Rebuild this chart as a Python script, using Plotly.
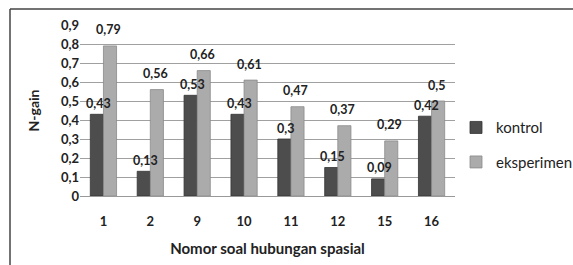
import plotly.graph_objects as go

categories = ["1", "2", "9", "10", "11", "12", "15", "16"]
kontrol = [0.43, 0.13, 0.53, 0.43, 0.30, 0.15, 0.09, 0.42]
eksperimen = [0.79, 0.56, 0.66, 0.61, 0.47, 0.37, 0.29, 0.50]
ytick_vals = [0, 0.1, 0.2, 0.3, 0.4, 0.5, 0.6, 0.7, 0.8, 0.9]
ytick_text = ["0", "0,1", "0,2", "0,3", "0,4", "0,5", "0,6", "0,7", "0,8", "0,9"]

def fmt(v):
    s = ("%.2f" % v).rstrip("0").rstrip(".")
    return s.replace(".", ",")

FONT = "Lato"
W, H = 573, 265
L, R, T, B = 80, 118, 25, 69

fig = go.Figure()
fig.add_trace(go.Bar(x=categories, y=kontrol, name="kontrol", legendgroup="a",
                     marker=dict(color="#4d4d4d", line=dict(color="#333333", width=0.8))))
fig.add_trace(go.Bar(x=categories, y=eksperimen, name="eksperimen", legendgroup="b",
                     marker=dict(color="#ababab", line=dict(color="#8a8a8a", width=0.8))))

ann = []
for i, (c, v) in enumerate(zip(categories, kontrol)):
    ann.append(dict(x=i, y=v, text="<b>" + fmt(v) + "</b>", xref="x", yref="y",
                    showarrow=False, xshift=-5, yshift=11,
                    font=dict(family=FONT, size=12.5, color="#222")))
for i, (c, v) in enumerate(zip(categories, eksperimen)):
    ann.append(dict(x=i, y=v, text="<b>" + fmt(v) + "</b>", xref="x", yref="y",
                    showarrow=False, xshift=5, yshift=16,
                    font=dict(family=FONT, size=12.5, color="#222")))

pw = W - L - R
ph = H - T - B
x_left = (10 - L) / pw
y_top = 1 + (T - 9) / ph
leg_x = (456 - (W - R)) / pw + 1

fig.update_layout(
    template="none",
    width=W, height=H,
    margin=dict(l=L, r=R, t=T, b=B, autoexpand=False),
    paper_bgcolor="white", plot_bgcolor="white",
    barmode="group", bargap=0.44, bargroupgap=0.0,
    font=dict(family=FONT, color="#222"),
    annotations=ann,
    shapes=[
        dict(type="line", xref="paper", yref="paper", x0=x_left, x1=x_left, y0=-1, y1=y_top,
             line=dict(color="#444", width=1.5)),
        dict(type="line", xref="paper", yref="paper", x0=x_left, x1=2, y0=y_top, y1=y_top,
             line=dict(color="#444", width=1.5)),
    ],
    legend=dict(x=leg_x, y=0.30, xanchor="left", yanchor="middle",
                font=dict(family=FONT, size=15, color="#222"),
                tracegroupgap=12, itemwidth=30),
    showlegend=True,
)
fig.update_yaxes(range=[0, 0.9], tickvals=ytick_vals, ticktext=["<b>" + t + "</b>" for t in ytick_text],
                 showgrid=True, gridcolor="#a0a0a0", gridwidth=1, zeroline=False, automargin=False,
                 tickfont=dict(family=FONT, size=13, color="#222"),
                 title=dict(text="<b>N-gain</b>", font=dict(family=FONT, size=14, color="#222"), standoff=17),
                 ticks="", showline=False)
fig.update_xaxes(type="category", tickfont=dict(family=FONT, size=13, color="#222"),
                 tickprefix="<b>", ticksuffix="</b>", automargin=False, ticks="",
                 ticklabelstandoff=13, showline=True, linecolor="#999", linewidth=1, showgrid=False,
                 title=dict(text="<b>Nomor soal hubungan spasial</b>", font=dict(family=FONT, size=15, color="#222"), standoff=15))

fig.write_html("out.html", config={"displayModeBar": False},
               post_script="document.body.style.margin='0';document.body.style.overflow='hidden';")
